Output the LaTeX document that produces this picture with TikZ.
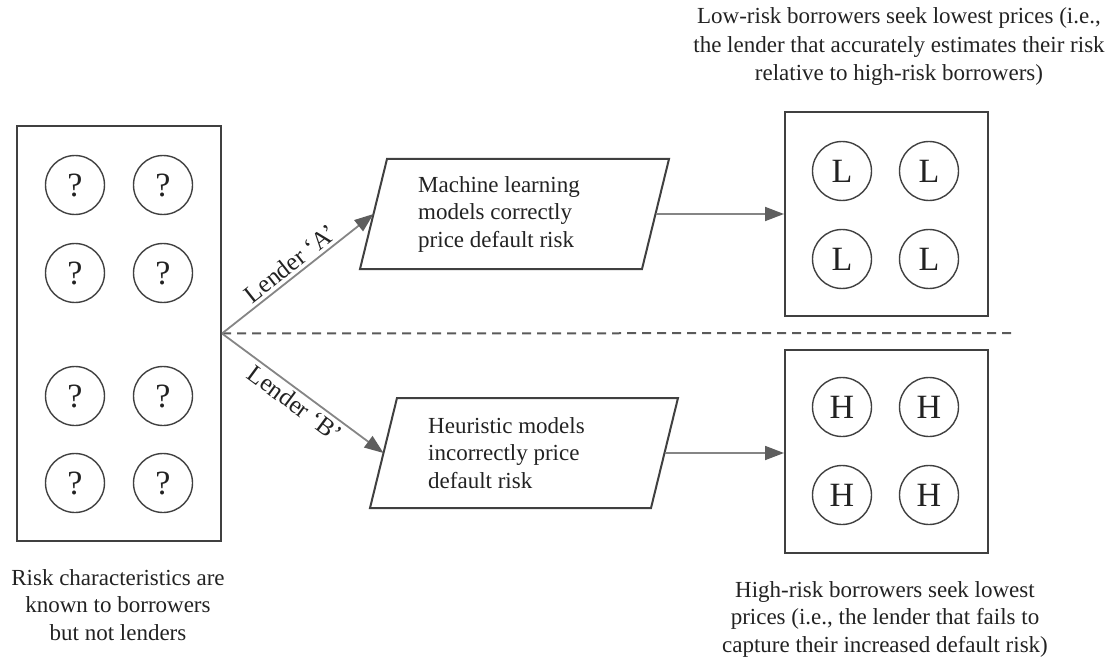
\documentclass[tikz,border=0pt]{standalone}
\usepackage{fontspec}
\setmainfont{Liberation Serif}
\usetikzlibrary{arrows.meta,calc}
\definecolor{linegray}{HTML}{404040}
\definecolor{arrowgray}{HTML}{858585}
\definecolor{tipgray}{HTML}{5E5E5E}
\definecolor{dashgray}{HTML}{5A5A5A}
\definecolor{textgray}{HTML}{222222}
\begin{document}
\begin{tikzpicture}[x=1pt,y=-1pt,
  box/.style={draw=linegray, line width=2pt, inner sep=0pt},
  paraline/.style={draw=linegray, line width=2pt, line join=miter},
  ball/.style={circle, draw=linegray, line width=1.4pt, minimum size=59pt,
    inner sep=0pt, text=textgray, font=\fontsize{34}{34}\selectfont},
  txt/.style={font=\fontsize{23}{27.5}\selectfont, text=textgray, align=center, inner sep=0pt},
  flow/.style={draw=arrowgray, line width=1.8pt, -{Triangle[length=19pt,width=14pt,color=tipgray]}},
  dashline/.style={draw=dashgray, line width=2pt, dash pattern=on 9pt off 6pt},
  lab/.style={font=\fontsize{25}{28}\selectfont, text=textgray, sloped, inner sep=3pt}
]
\useasboundingbox (0,0) rectangle (1112,658);

% boxes
\node[box, minimum width=204pt, minimum height=415pt] (left) at (119,333.5) {};
\node[box, minimum width=203pt, minimum height=204pt] (lbox) at (886.5,214) {};
\node[box, minimum width=203pt, minimum height=203pt] (hbox) at (886.5,451.5) {};

% question marks
\node[ball] (q1) at (75,185) {?};
\node[ball] (q2) at (163,185) {?};
\node[ball] (q3) at (75,273) {?};
\node[ball] (q4) at (163,273) {?};
\node[ball] (q5) at (75,396) {?};
\node[ball] (q6) at (163,396) {?};
\node[ball] (q7) at (75,483) {?};
\node[ball] (q8) at (163,483) {?};

% L circles
\node[ball] (l1) at (842,171) {L};
\node[ball] (l2) at (929,171) {L};
\node[ball] (l3) at (842,259) {L};
\node[ball] (l4) at (929,259) {L};

% H circles
\node[ball] (h1) at (842,407) {H};
\node[ball] (h2) at (929,407) {H};
\node[ball] (h3) at (842,495) {H};
\node[ball] (h4) at (929,495) {H};

% parallelograms
\coordinate (pAbl) at (360,269);
\coordinate (pAtl) at (387,159);
\coordinate (pAtr) at (669,159);
\coordinate (pAbr) at (642,269);
\draw[paraline] (pAbl) -- (pAtl) -- (pAtr) -- (pAbr) -- cycle;
\coordinate (pAin) at ($(pAbl)!0.5!(pAtl)$);
\coordinate (pAout) at ($(pAbr)!0.5!(pAtr)$);

\coordinate (pBbl) at (370,508);
\coordinate (pBtl) at (397,398);
\coordinate (pBtr) at (678,398);
\coordinate (pBbr) at (651,508);
\draw[paraline] (pBbl) -- (pBtl) -- (pBtr) -- (pBbr) -- cycle;
\coordinate (pBin) at ($(pBbl)!0.5!(pBtl)$);
\coordinate (pBout) at ($(pBbr)!0.5!(pBtr)$);

\node[txt, align=left, anchor=west] (tA) at (418,214) {Machine learning\\models correctly\\price default risk};
\node[txt, align=left, anchor=west] (tB) at (428,453) {Heuristic models\\incorrectly price\\default risk};

% dashed separator
\coordinate (dend) at (1013,333);
\draw[dashline] (left.east) -- (dend);

% arrows
\draw[flow] (left.east) -- (pAin) node[lab, midway, above] {Lender ‘A’};
\draw[flow] (left.east) -- (pBin) node[lab, midway, below] {Lender ‘B’};
\draw[flow] (pAout) -- (lbox.west);
\draw[flow] (pBout) -- (lbox.west |- pBout);

% captions
\node[txt, font=\fontsize{23}{28.5}\selectfont] (capL) at (899,47) {Low-risk borrowers seek lowest prices (i.e.,\\the lender that accurately estimates their risk\\relative to high-risk borrowers)};
\node[txt] (capH) at (885,619) {High-risk borrowers seek lowest\\prices (i.e., the lender that fails to\\capture their increased default risk)};
\node[txt] (capQ) at (118,605) {Risk characteristics are\\known to borrowers\\but not lenders};
\end{tikzpicture}
\end{document}
